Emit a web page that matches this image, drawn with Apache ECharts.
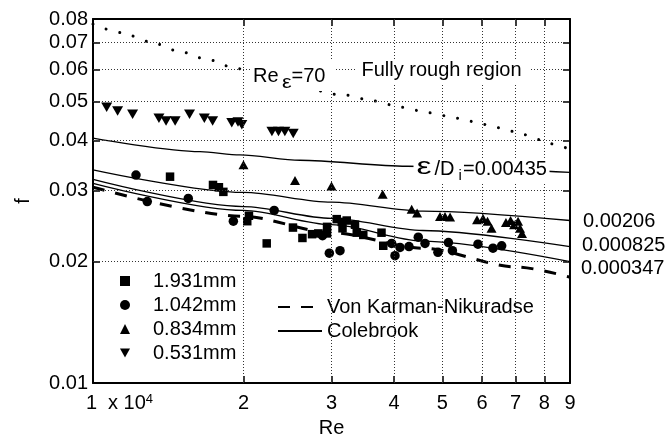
<!DOCTYPE html>
<html><head><meta charset="utf-8">
<script src="https://cdn.jsdelivr.net/npm/echarts@6/dist/echarts.min.js"></script>
<style>html,body{margin:0;padding:0;background:#fff}#c{width:670px;height:438px}</style>
</head><body><div id="c"></div>
<script>
// ---- tick values & labels ----
const xTicks = [10000, 20000, 30000, 40000, 50000, 60000, 70000, 80000, 90000];
const xTickLabels = ['1', '2', '3', '4', '5', '6', '7', '8', '9'];
const yTicks = [0.01, 0.02, 0.03, 0.04, 0.05, 0.06, 0.07, 0.08];
const yTickLabels = ['0.01', '0.02', '0.03', '0.04', '0.05', '0.06', '0.07', '0.08'];
// interior grid lines (dotted)
const xGrid = [20000, 30000, 40000, 50000, 60000, 70000, 80000];
const yGrid = [0.02, 0.03, 0.04, 0.05, 0.06, 0.07];

// ---- measured data (Re, f) ----
const d1931 = [[14260,0.0325],[17380,0.0310],[17860,0.0306],[18230,0.0298],[20510,0.0260],[20350,0.0252],[22260,0.0222],[25120,0.0243],[26240,0.0229],[27430,0.0234],[28230,0.0235],[29390,0.0244],[29390,0.0235],[30730,0.0255],[31450,0.0251],[31560,0.0242],[32180,0.0253],[33430,0.0247],[33700,0.0236],[34730,0.0233],[37770,0.0236],[38080,0.0219]];
const d1042 = [[12190,0.0328],[12840,0.0282],[15510,0.0287],[19090,0.0252],[23040,0.0268],[28780,0.0232],[29700,0.0210],[31200,0.0213],[39580,0.0222],[40190,0.0207],[41130,0.0217],[42870,0.0218],[44740,0.0230],[46150,0.0222],[48980,0.0211],[51410,0.0223],[52360,0.0213],[58900,0.0221],[63120,0.0216],[65700,0.0219]];
const d0834 = [[20000,0.0348],[25360,0.0318],[30000,0.0308],[37970,0.0294],[43400,0.0270],[44500,0.0264],[49450,0.0259],[50600,0.0259],[51800,0.0258],[58650,0.0254],[60300,0.0256],[61550,0.0252],[62700,0.0242],[67000,0.0250],[68450,0.0253],[69550,0.0247],[70850,0.0252],[71500,0.0242],[72150,0.0235]];
const d0531 = [[10650,0.0483],[11200,0.0473],[12000,0.0464],[13550,0.0454],[14000,0.0447],[14600,0.0447],[15600,0.0464],[16700,0.0454],[17350,0.0447],[18950,0.0442],[19500,0.0444],[19850,0.0437],[22800,0.0421],[23500,0.0421],[24200,0.0421],[25150,0.0416]];

// ---- curves ----
const vonKarman = [[10000,0.0306],[20000,0.0259],[30000,0.0236],[45700,0.0216],[70400,0.0194],[90000,0.0183]];
const cb00435 = [[10000,0.0405],[16370,0.0375],[19680,0.0368],[25940,0.0357],[42410,0.0345],[90000,0.0333]];
const cb00206 = [[10000,0.0338],[20000,0.0297],[30000,0.0281],[45700,0.0267],[90000,0.0253]];
const cb000825 = [[10000,0.0320],[20000,0.0274],[30000,0.0256],[45700,0.0239],[90000,0.0218]];
const cb000347 = [[10000,0.0313],[20000,0.0268],[30000,0.0247],[45700,0.0225],[90000,0.0200]];
const reEps70 = [[10000,0.0777],[11410,0.0740],[12960,0.0703],[14770,0.0667],[16800,0.0637],[19090,0.0607],[20300,0.0596],[31920,0.0518],[36370,0.0501],[41430,0.0483],[47070,0.0468],[53540,0.0454],[60850,0.0438],[69280,0.0421],[79000,0.0401],[84270,0.0390],[90000,0.0379]];

const FONT = 'Liberation Sans, Arial, Helvetica, sans-serif';
const BLACK = '#000';

function findLabel(v, ticks, labels) {
  for (let i = 0; i < ticks.length; i++) {
    if (Math.abs(v - ticks[i]) / ticks[i] < 1e-6) return labels[i];
  }
  return '';
}

const chart = echarts.init(document.getElementById('c'), null, {renderer: 'canvas'});

const axLine = {show: true, onZero: false, lineStyle: {color: BLACK, width: 2}};
const tick = (vals) => ({show: true, inside: true, length: 7, customValues: vals, lineStyle: {color: BLACK, width: 1.5}});

function lineSeries(name, data, style, extra) {
  return Object.assign({
    type: 'line', name, data, symbol: 'none', showSymbol: false,
    smooth: 0.3, smoothMonotone: 'x',
    lineStyle: Object.assign({color: BLACK}, style),
    itemStyle: {color: BLACK},
    emphasis: {disabled: true}, silent: true, z: 3
  }, extra || {});
}

function scatterSeries(name, data, symbol, size) {
  return {
    type: 'scatter', name, data, symbol, symbolSize: size,
    itemStyle: {color: BLACK, opacity: 1}, emphasis: {disabled: true}, silent: true, z: 4
  };
}

function txt(x, y, text, size, extra) {
  return Object.assign({type: 'text', x, y, z: 11, silent: true,
    style: {text, fontSize: size, fontFamily: FONT, fill: BLACK, verticalAlign: 'middle'}}, extra || {});
}

const option = {
  animation: false,
  backgroundColor: '#fff',
  textStyle: {fontFamily: FONT, color: BLACK},
  grid: {left: 93, right: 100, top: 19, bottom: 55, containLabel: false, outerBoundsMode: 'none'},
  xAxis: [{
    type: 'log', logBase: 10, min: 10000, max: 90000,
    name: 'Re', nameLocation: 'middle', nameGap: 35,
    nameTextStyle: {fontSize: 20, color: BLACK, fontFamily: FONT},
    axisLine: axLine, axisTick: tick(xTicks),
    minorTick: {show: false},
    axisLabel: {
      customValues: xTicks, margin: 10, color: BLACK, fontSize: 20, fontFamily: FONT,
      formatter: function (v) {
        const t = findLabel(v, xTicks, xTickLabels);
        if (Math.abs(v - xTicks[0]) / xTicks[0] < 1e-6) return '{p| }{n|' + t + '}{m|x 10}{s|4}';
        return '{n|' + t + '}';
      },
      rich: {
        p: {width: 53, fontSize: 20},
        n: {fontSize: 20, color: BLACK, fontFamily: FONT},
        m: {fontSize: 20, color: BLACK, fontFamily: FONT, padding: [0, 0, 0, 11]},
        s: {fontSize: 13, color: BLACK, fontFamily: FONT, verticalAlign: 'top'}
      }
    },
    splitLine: {show: false}
  }, {
    type: 'log', logBase: 10, min: 10000, max: 90000, position: 'top',
    axisLine: axLine, axisTick: tick(xTicks), axisLabel: {show: false},
    minorTick: {show: false}, splitLine: {show: false}
  }],
  yAxis: [{
    type: 'log', logBase: 10, min: 0.01, max: 0.08,
    name: 'f', nameLocation: 'middle', nameGap: 60, nameRotate: 90,
    nameTextStyle: {fontSize: 20, color: BLACK, fontFamily: FONT},
    axisLine: axLine, axisTick: tick(yTicks), minorTick: {show: false},
    axisLabel: {
      customValues: yTicks, margin: 5, color: BLACK, fontSize: 20, fontFamily: FONT,
      formatter: function (v) { return findLabel(v, yTicks, yTickLabels); }
    },
    splitLine: {show: false}
  }, {
    type: 'log', logBase: 10, min: 0.01, max: 0.08, position: 'right',
    axisLine: axLine, axisTick: tick(yTicks), axisLabel: {show: false},
    minorTick: {show: false}, splitLine: {show: false}
  }],
  legend: [{
    data: [{name: '1.931mm'}, {name: '1.042mm'}, {name: '0.834mm'}, {name: '0.531mm'}],
    orient: 'vertical', left: 94.5, top: 263.5,
    padding: [7.5, 9, 4, 25.5], itemGap: 4, itemWidth: 10, itemHeight: 10,
    backgroundColor: '#fff', selectedMode: false,
    textStyle: {fontSize: 20, color: BLACK, fontFamily: FONT, padding: [0, 0, 0, 18]}
  }, {
    data: [{name: 'Von Karman-Nikuradse'}, {name: 'Colebrook'}],
    orient: 'vertical', left: 267, top: 290,
    padding: [7, 10, 9, 10], itemGap: 4, itemWidth: 44, itemHeight: 10,
    backgroundColor: '#fff', selectedMode: false,
    itemStyle: {opacity: 0},
    textStyle: {fontSize: 20, color: BLACK, fontFamily: FONT}
  }],
  series: [
    {
      type: 'line', name: 'grid', data: [], silent: true, z: 1, symbol: 'none',
      markLine: {
        silent: true, symbol: ['none', 'none'], animation: false,
        label: {show: false},
        lineStyle: {type: [1, 2], color: '#333', width: 1},
        emphasis: {disabled: true},
        data: xGrid.map(v => ({xAxis: v})).concat(yGrid.map(v => ({yAxis: v})))
      }
    },
    scatterSeries('1.931mm', d1931, 'rect', 8.5),
    scatterSeries('1.042mm', d1042, 'circle', 9.5),
    scatterSeries('0.834mm', d0834, 'triangle', [10, 9]),
    scatterSeries('0.531mm', d0531, 'path://M0,0L10,0L5,9Z', [11, 9.5]),
    lineSeries('Von Karman-Nikuradse', vonKarman, {width: 3, type: [12, 11]}),
    lineSeries('Colebrook', cb00435, {width: 1.3, type: 'solid'}),
    lineSeries('Colebrook', cb00206, {width: 1.3, type: 'solid'}),
    lineSeries('Colebrook', cb000825, {width: 1.3, type: 'solid'}),
    lineSeries('Colebrook', cb000347, {width: 1.3, type: 'solid'}),
    lineSeries('Re_eps70', reEps70, {width: 3, type: [0.01, 14], cap: 'round'})
  ],
  graphic: [
    // white boxes behind annotations
    {type: 'rect', shape: {x: 250, y: 60, width: 84, height: 31}, style: {fill: '#fff'}, z: 10, silent: true},
    {type: 'rect', shape: {x: 357, y: 59, width: 172, height: 24}, style: {fill: '#fff'}, z: 10, silent: true},
    {type: 'rect', shape: {x: 413.5, y: 158, width: 136, height: 26}, style: {fill: '#fff'}, z: 10, silent: true},
    // Re_eps = 70
    txt(253, 76, 'Re', 20),
    txt(282, 83.5, 'ε', 18, {scaleX: 1.2}),
    txt(291.5, 76, '=70', 20),
    // Fully rough region
    txt(361.5, 70.5, 'Fully rough region', 20),
    // eps/Di = 0.00435
    txt(416.5, 167.5, 'ε', 24, {scaleX: 1.4}),
    txt(434.5, 169, '/D', 20),
    txt(458.5, 175.5, 'i', 15),
    txt(463, 169, '=0.00435', 20),
    // right-hand curve labels
    txt(583, 221, '0.00206', 20),
    txt(582, 245.5, '0.000825', 20),
    txt(581, 268.5, '0.000347', 20)
  ]
};

chart.setOption(option);
</script>
</body></html>
